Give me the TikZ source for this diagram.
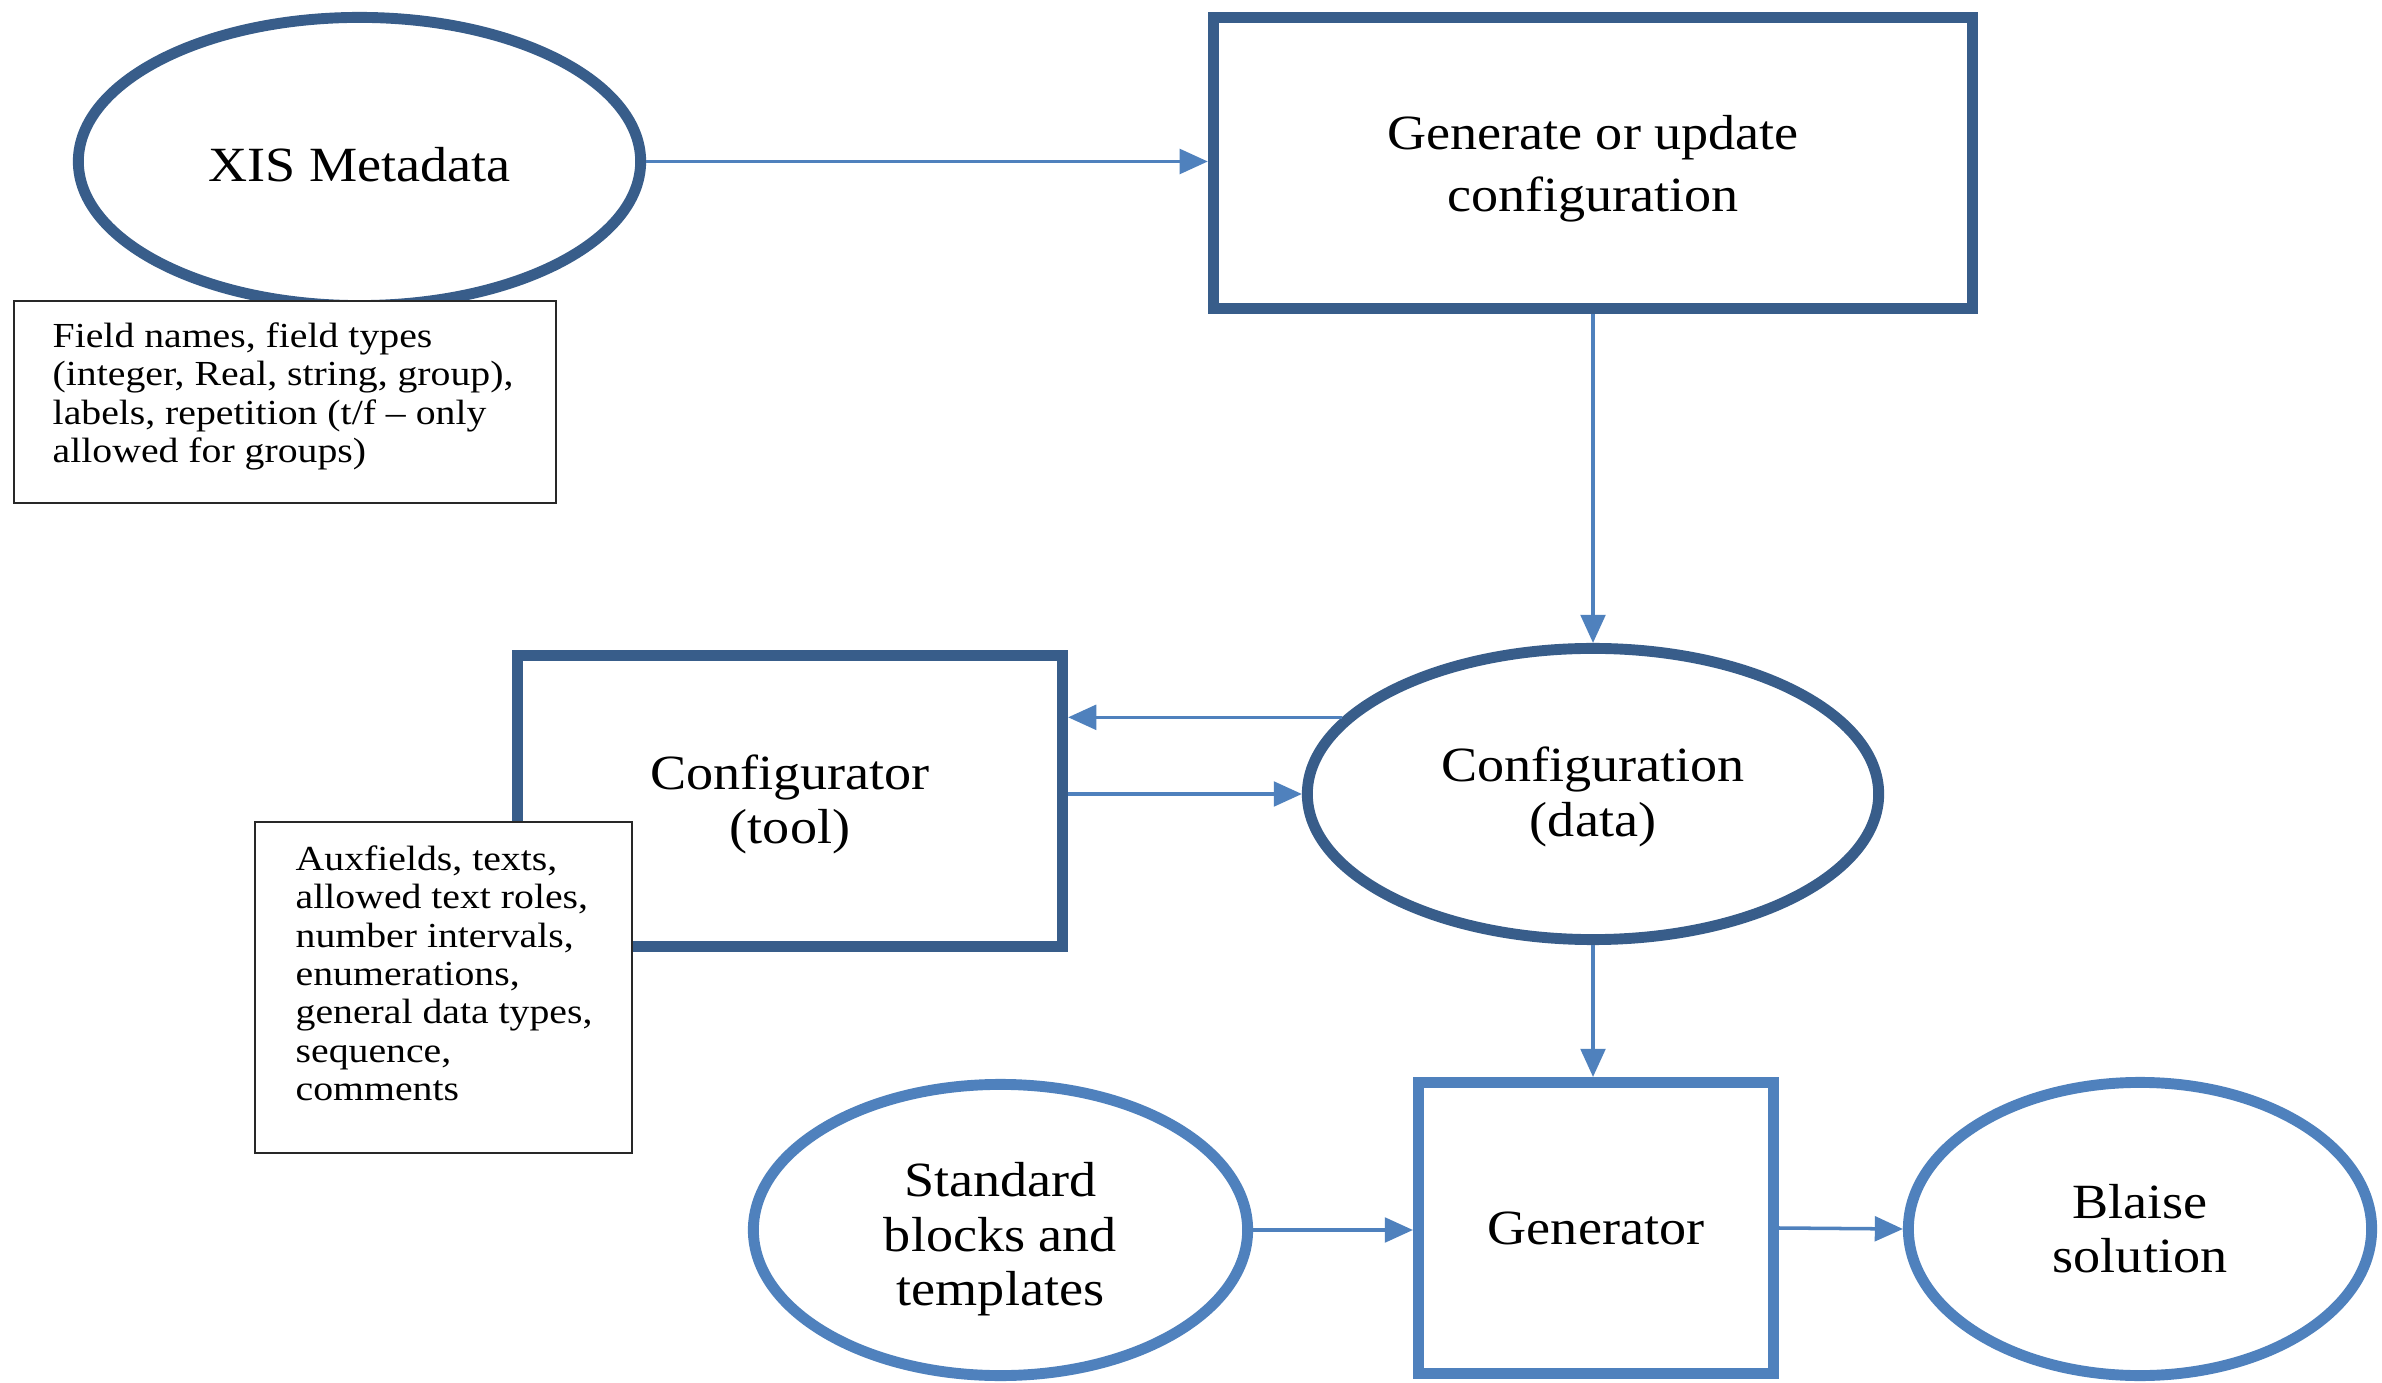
\documentclass[tikz,border=0pt]{standalone}
\usepackage{fontspec}
\setmainfont{Liberation Serif}
\newfontfamily\bigf[FakeStretch=1.1]{Liberation Serif}
\newfontfamily\smallf[FakeStretch=1.13]{Liberation Serif}
\usetikzlibrary{shapes.geometric,arrows.meta}
\definecolor{darkb}{RGB}{56,93,138}
\definecolor{lightb}{RGB}{79,129,189}
\definecolor{notegray}{RGB}{40,40,40}
\newcommand\mylift[1]{\rule{0pt}{#1}}
\tikzset{
 bigtext/.style={font=\bigf\fontsize{14}{15.4}\selectfont, align=center, text=black},
 oval/.style={ellipse, draw, line width=3.1pt, fill=white, inner sep=0pt, bigtext},
 boxnode/.style={rectangle, draw, line width=3.1pt, fill=white, inner sep=0pt, bigtext},
 note/.style={rectangle, draw=notegray, line width=0.6pt, fill=white},
 notetext/.style={font=\smallf\fontsize{10}{10.9}\selectfont, align=left, inner sep=0pt, anchor=north west, text=black},
 arr/.style={draw=lightb, line width=1pt, -{Triangle[length=8pt,width=7pt]}, lightb}
}
\begin{document}
\begin{tikzpicture}[x=0.01cm,y=-0.01cm]
\fill[white] (0,0) rectangle (2382,1383);
\useasboundingbox (0,0) rectangle (2382,1383);

\node[oval, draw=darkb, minimum width=5.62cm, minimum height=2.88cm] (xis) at (359.5,161.5) {\mylift{11.5pt}XIS Metadata};
\node[boxnode, draw=darkb, minimum width=7.59cm, minimum height=2.91cm, font=\bigf\fontsize{14}{17.4}\selectfont] (gen) at (1593,163) {\mylift{13pt}Generate or update\\configuration};
\node[boxnode, draw=darkb, minimum width=5.45cm, minimum height=2.91cm] (cfgr) at (790,801) {\mylift{12pt}Configurator\\(tool)};
\node[oval, draw=darkb, minimum width=5.71cm, minimum height=2.91cm] (conf) at (1593,794) {\mylift{11.5pt}Configuration\\(data)};
\node[oval, draw=lightb, minimum width=4.94cm, minimum height=2.91cm] (std) at (1000.5,1230) {\mylift{15pt}Standard\\blocks and\\templates};
\node[boxnode, draw=lightb, minimum width=3.55cm, minimum height=2.91cm] (gtr) at (1596,1228) {Generator};
\node[oval, draw=lightb, minimum width=4.63cm, minimum height=2.93cm] (bls) at (2140,1229) {Blaise\\solution};

\node[note, minimum width=5.42cm, minimum height=2.02cm] (fnote) at (285,402) {};
\node[notetext] (ftext) at (52,322) {Field names, field types\\(integer, Real, string, group),\\labels, repetition (t/f – only\\allowed for groups)};

\node[note, minimum width=3.77cm, minimum height=3.31cm] (anote) at (443.5,987.5) {};
\node[notetext] (atext) at (295,845) {Auxfields, texts,\\allowed text roles,\\number intervals,\\enumerations,\\general data types,\\sequence,\\comments};

\draw[arr] (xis.east) -- (xis.east -| gen.west);
\draw[arr] (gen.south) -- (conf.north);
\draw[arr] (conf.163) -- (conf.163 -| cfgr.east);
\draw[arr] (conf.west -| cfgr.east) -- (conf.west);
\draw[arr] (conf.south) -- (conf.south |- gtr.north);
\draw[arr] (std.east) -- (std.east -| gtr.west);
\draw[arr] (gtr.east) -- (bls.west);
\end{tikzpicture}
\end{document}
